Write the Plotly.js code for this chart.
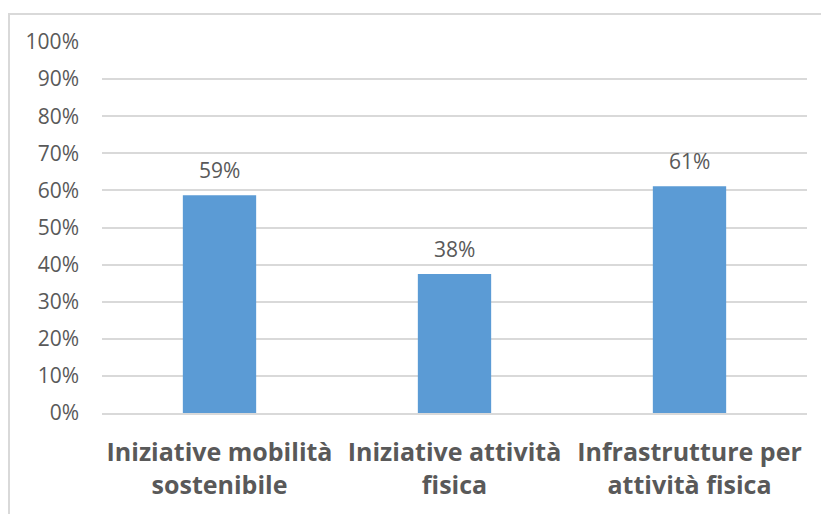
<!DOCTYPE html>
<html>
<head>
<meta charset="utf-8">
<script src="https://cdn.plot.ly/plotly-3.0.1.min.js"></script>
<style>
  html, body { margin: 0; padding: 0; background: #ffffff; overflow: hidden; }
  #wrap { position: relative; width: 821px; height: 514px; }
  #chart { position: absolute; left: 0; top: 0; width: 821px; height: 514px; }
  #frame { position: absolute; left: 8px; top: 13px; width: 900px; height: 600px;
           border-top: 2px solid #D9D9D9; border-left: 2px solid #D9D9D9; pointer-events: none; }
</style>
</head>
<body>
<div id="wrap">
  <div id="chart"></div>
  <div id="frame"></div>
</div>
<script>
const categories = ["Iniziative mobilità<br>sostenibile", "Iniziative attività<br>fisica", "Infrastrutture per<br>attività fisica"];
const values = [0.587, 0.375, 0.611];
const labels = ["59%", "38%", "61%"];
const yTickVals = [0, 0.1, 0.2, 0.3, 0.4, 0.5, 0.6, 0.7, 0.8, 0.9, 1.0];
const yTickText = ["0%", "10%", "20%", "30%", "40%", "50%", "60%", "70%", "80%", "90%", "100%"];

const textColor = "#595959";
const fontFam = "'Open Sans', Lato, sans-serif";

const trace = {
  type: "bar",
  x: categories,
  y: values,
  marker: { color: "#5B9BD5", line: { width: 0 } },
  hoverinfo: "none"
};

const annotations = categories.map((c, i) => ({
  x: c, y: values[i], xref: "x", yref: "y",
  text: labels[i], showarrow: false,
  yanchor: "bottom", yshift: 9,
  font: { family: fontFam, size: 21, color: textColor }
}));

const layout = {
  width: 821, height: 514,
  margin: { l: 102, r: 14, t: 42, b: 101, pad: 0 },
  paper_bgcolor: "rgba(0,0,0,0)",
  plot_bgcolor: "#ffffff",
  showlegend: false,
  bargap: 0.688,
  xaxis: {
    type: "category",
    showgrid: false,
    showline: true, linecolor: "#D9D9D9", linewidth: 2,
    ticks: "", ticklabelstandoff: 16,
    tickfont: { family: fontFam, size: 25, color: textColor, weight: "bold" },
    automargin: false
  },
  yaxis: {
    range: [0, 1.0],
    tickvals: yTickVals, ticktext: yTickText,
    showgrid: true, gridcolor: "#D9D9D9", gridwidth: 2,
    zeroline: false, showline: false,
    ticks: "", ticklabelstandoff: 22,
    tickfont: { family: fontFam, size: 21, color: textColor },
    automargin: false
  },
  annotations: annotations
};

Plotly.newPlot("chart", [trace], layout, { displayModeBar: false, staticPlot: true });
</script>
</body>
</html>
